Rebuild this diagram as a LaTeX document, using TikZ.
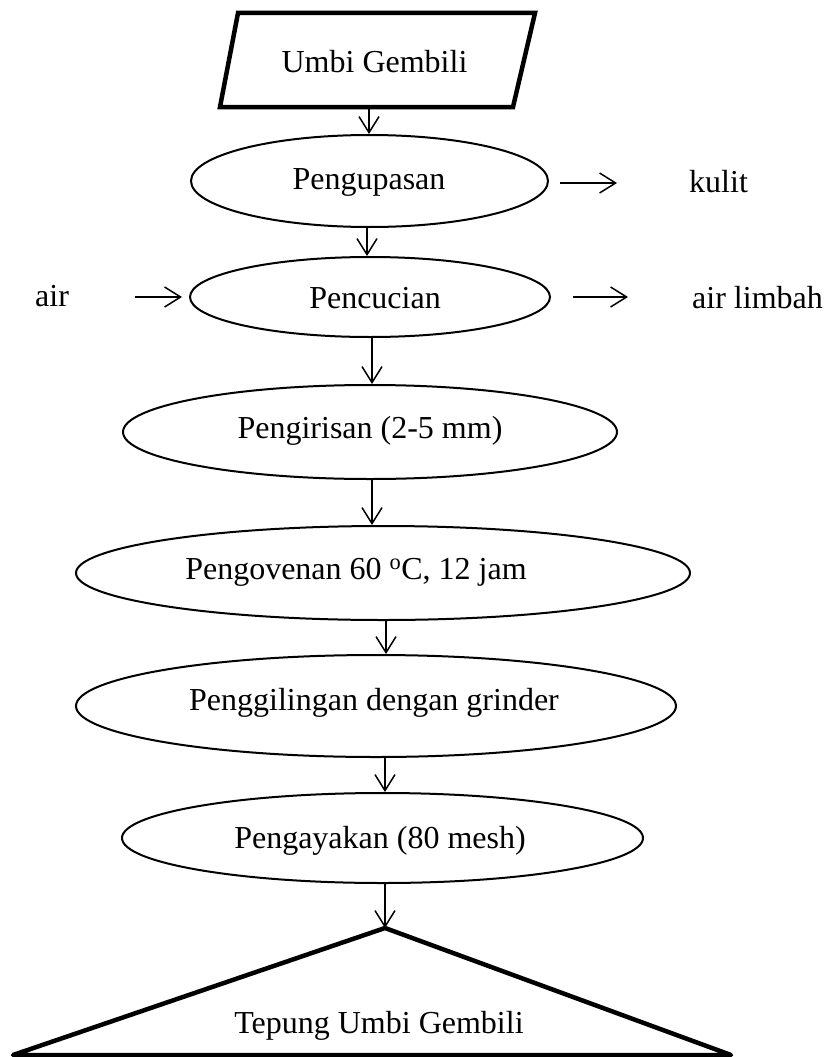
\documentclass[tikz,border=0pt]{standalone}
\usepackage{fontspec}
\setmainfont{Liberation Serif}
\usetikzlibrary{arrows.meta,shapes.geometric}
\begin{document}
\begin{tikzpicture}[x=1pt,y=-1pt,
  every node/.style={font=\fontsize{32}{38}\selectfont, inner sep=0pt},
  proc/.style={draw, ellipse, line width=2pt, inner sep=0pt},
  lbl/.style={anchor=base},
  side/.style={anchor=base west},
  arr/.style={-{Straight Barb[length=16pt,width=20pt]}, line width=1.5pt},
  heavy/.style={line width=4.5pt, line join=miter}
]
\useasboundingbox (0,0) rectangle (825,1057);

% input parallelogram
\coordinate (pa) at (238,13);
\coordinate (pb) at (535,13);
\coordinate (pc) at (513,107);
\coordinate (pd) at (220,107);
\draw[heavy] (pa) -- (pb) -- (pc) -- (pd) -- cycle;
\node[lbl] (t0) at (374.5,72) {Umbi Gembili};
\coordinate (p0b) at (369,107);

% process ellipses
\node[proc, minimum width=357pt, minimum height=92pt] (e1) at (369.5,181) {};
\node[lbl] (t1) at (369,189) {Pengupasan};

\node[proc, minimum width=360pt, minimum height=80pt] (e2) at (370,297) {};
\node[lbl] (t2) at (375,308) {Pencucian};

\node[proc, minimum width=494pt, minimum height=94pt] (e3) at (370,432) {};
\node[lbl] (t3) at (370,438) {Pengirisan (2-5 mm)};

\node[proc, minimum width=614pt, minimum height=94pt] (e4) at (383,573) {};
\node[lbl] (t4) at (356,579) {Pengovenan 60 \textsuperscript{o}C, 12 jam};

\node[proc, minimum width=600pt, minimum height=102pt] (e5) at (376,706) {};
\node[lbl] (t5) at (374,710) {Penggilingan dengan grinder};

\node[proc, minimum width=521pt, minimum height=90pt] (e6) at (382.5,838) {};
\node[lbl] (t6) at (380,848) {Pengayakan (80 mesh)};

% output triangle
\coordinate (ta) at (385,928);
\coordinate (tb) at (731,1055);
\coordinate (tc) at (13,1055);
\draw[heavy, line join=round] (ta) -- (tb) -- (tc) -- cycle;
\node[lbl] (t7) at (379,1033) {Tepung Umbi Gembili};

% side texts
\node[side] (kulit) at (689,192) {kulit};
\node[side] (air) at (35,306) {air};
\node[side] (limbah) at (692,308) {air limbah};

% main flow arrows
\coordinate (x2) at (367,0);
\coordinate (x3) at (372,0);
\coordinate (x5) at (386,0);
\coordinate (x6) at (385,0);
\draw[arr] (p0b) -- (e1.north -| p0b);
\draw[arr] (e1.south -| x2) -- (e2.north -| x2);
\draw[arr] (e2.south -| x3) -- (e3.north -| x3);
\draw[arr] (e3.south -| x3) -- (e4.north -| x3);
\draw[arr] (e4.south -| x5) -- (e5.north -| x5);
\draw[arr] (e5.south -| x6) -- (e6.north -| x6);
\draw[arr] (e6.south -| ta) -- (ta);

% side arrows
\coordinate (k0) at (560,183);
\coordinate (k1) at (617,183);
\draw[arr] (k0) -- (k1);
\coordinate (a0) at (135,297);
\coordinate (a1) at (182,297);
\draw[arr] (a0) -- (a1);
\coordinate (l0) at (573,297);
\coordinate (l1) at (628,297);
\draw[arr] (l0) -- (l1);
\end{tikzpicture}
\end{document}
